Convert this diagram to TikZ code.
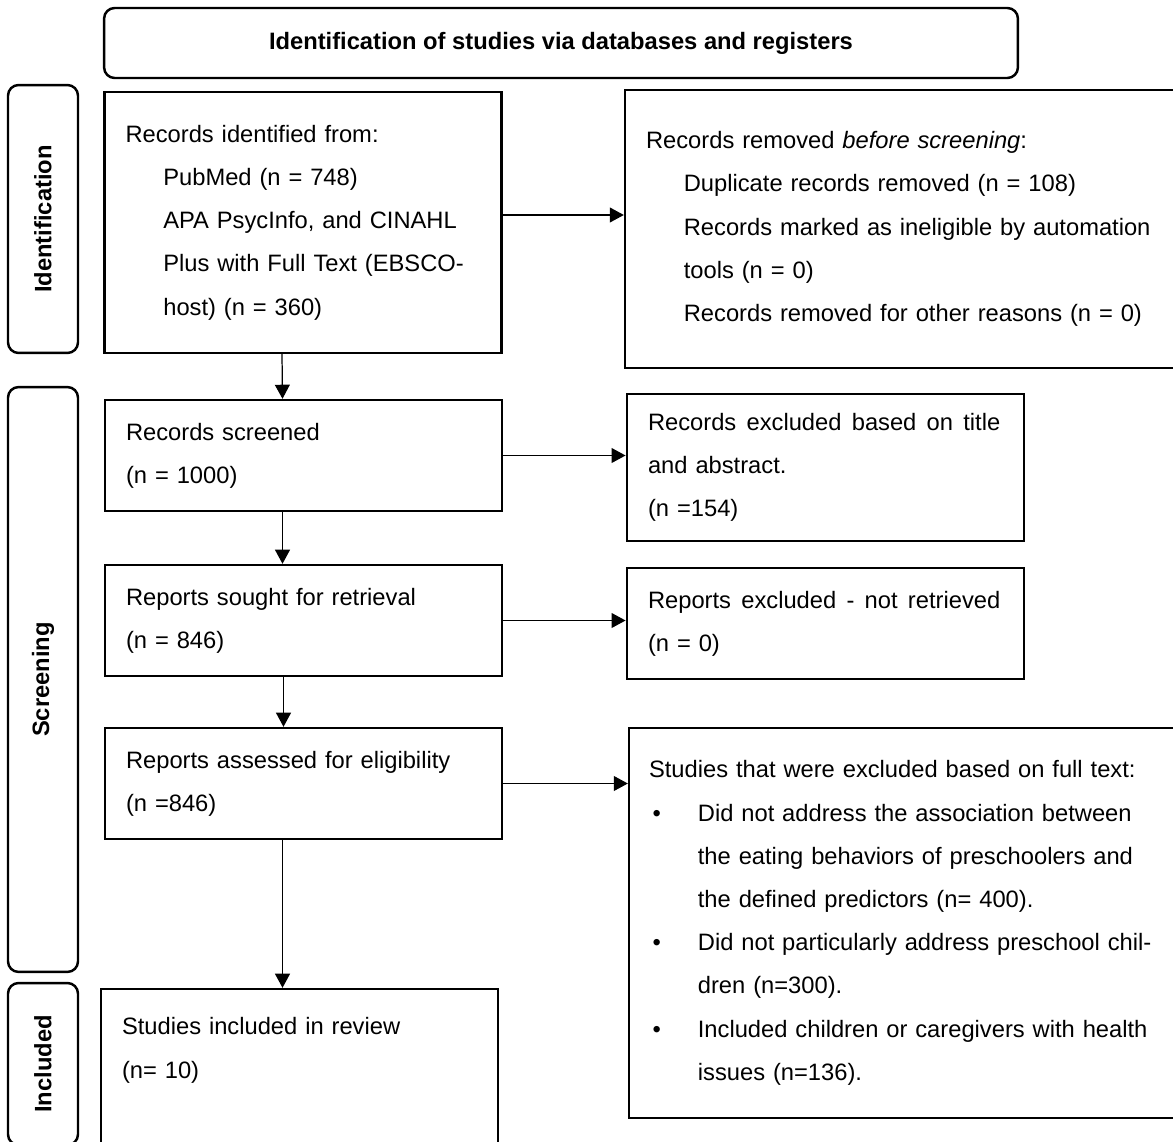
\documentclass[tikz,border=0pt]{standalone}
\usepackage{fontspec}
\setmainfont{Liberation Sans}
\usepackage{tikz}
\usetikzlibrary{arrows.meta}

\newcommand{\ind}{\hspace*{21.5pt}}
\newcommand{\bul}{\makebox[27.8pt][l]{\hspace*{2pt}\textbullet}}
\newcommand{\hang}{\hspace*{27.8pt}}
\newcommand{\fillline}[1]{\makebox[200.5pt][s]{\spaceskip=0.278em plus 1fil\relax #1}}

\begin{document}
\begin{tikzpicture}[x=0.02cm, y=-0.02cm,
    box/.style={draw, line width=1.4pt, minimum width=7.95cm, minimum height=2.22cm, text width=7.1cm, align=left, font=\fontsize{13.5}{24.6}\selectfont},
    wide/.style={box, minimum width=11.3cm, text width=10.46cm},
    band/.style={draw, line width=1.4pt, rounded corners=6pt, rotate=90, minimum height=1.4cm, font=\bfseries\fontsize{13.5}{16}\selectfont},
    arr/.style={-{Triangle[length=8pt,width=8.5pt]}, line width=0.7pt}
]
    \useasboundingbox (0,0) rectangle (1173,1142);
    \clip (0,0) rectangle (1173,1142);

    \node[draw, line width=1.4pt, rounded corners=6pt, minimum width=18.28cm, minimum height=1.4cm, font=\bfseries\fontsize{13.5}{16}\selectfont] (title) at (561,43) {Identification of studies via databases and registers};
    \node[band, minimum width=5.36cm] (idband) at (43,219) {Identification};
    \node[band, minimum width=11.7cm] (scband) at (43,679.5) {Screening};
    \node[band, minimum width=3.24cm] (inband) at (43,1064) {Included};

    \node[box, minimum height=5.22cm] (found) at (303,222.5) {Records identified from:\\ \ind PubMed (n = 748)\\ \ind APA PsycInfo, and CINAHL\\ \ind Plus with Full Text (EBSCO-\\ \ind host) (n = 360)};
    \node[wide, minimum height=5.56cm] (removed) at (907.5,229) {Records removed \textit{before screening}:\\ \ind Duplicate records removed (n = 108)\\ \ind Records marked as ineligible by automation\\ \ind tools (n = 0)\\ \ind Records removed for other reasons (n = 0)};
    \node[box] (screened) at (303.5,455.5) {Records screened\\(n = 1000)};
    \node[box, minimum height=2.94cm] (excl) at (825.5,467.5) {\fillline{Records excluded based on title}\\and abstract.\\(n =154)};
    \node[box] (sought) at (303.5,620.5) {Reports sought for retrieval\\(n = 846)};
    \node[box] (notret) at (825.5,623.5) {\fillline{Reports excluded - not retrieved}\\(n = 0)};
    \node[box] (assessed) at (303.5,783.5) {Reports assessed for eligibility\\(n =846)};
    \node[wide, minimum width=11.22cm, text width=10.42cm, minimum height=7.8cm] (fulltext) at (909.5,923) {Studies that were excluded based on full text:\\
        \bul Did not address the association between\\ \hang the eating behaviors of preschoolers and\\ \hang the defined predictors (n= 400).\\
        \bul Did not particularly address preschool chil-\\ \hang dren (n=300).\\
        \bul Included children or caregivers with health\\ \hang issues (n=136).};
    \node[box, minimum height=3.22cm] (included) at (299.5,1069.5) {Studies included in review\\(n= 10)\\ \mbox{}};

    \draw[arr] ([yshift=1.5mm]found.east) -- ([yshift=1.5mm]found.east -| removed.west);
    \draw[arr] ([xshift=-4.2mm]found.south) -- ([xshift=-4.2mm]screened.north);
    \draw[arr] (screened.east) -- (screened.east -| excl.west);
    \draw[arr] ([xshift=-4.2mm]screened.south) -- ([xshift=-4.2mm]sought.north);
    \draw[arr] (sought.east) -- (sought.east -| notret.west);
    \draw[arr] ([xshift=-4mm]sought.south) -- ([xshift=-4mm]assessed.north);
    \draw[arr] (assessed.east) -- (assessed.east -| fulltext.west);
    \draw[arr] ([xshift=-4.2mm]assessed.south) -- ([xshift=-4.2mm]assessed.south |- included.north);
\end{tikzpicture}
\end{document}
